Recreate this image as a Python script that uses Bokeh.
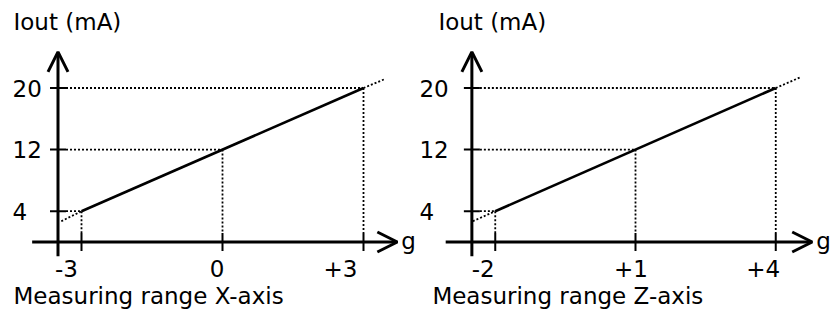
from bokeh.plotting import figure
from bokeh.models import Range1d, Arrow, OpenHead
from bokeh.core.properties import value
from bokeh.embed import file_html
from bokeh.resources import INLINE

# ---------------- data ----------------
y_title = "Iout (mA)"
x_unit = "g"
mA_ticks = [4, 12, 20]
y_tick_labels = ["4", "12", "20"]
y_axis_span = [-1.85, 24.7]          # mA extent of the vertical axis arrow

# X-axis measuring range
x_title = "Measuring range X-axis"
x_ticks_g = [-3, 0, 3]
x_tick_labels = ["-3", "0", "+3"]
x_origin_g = -3.5
x_axis_span = [-4.05, 3.72]
x_line_g = [-3, 3]
x_line_mA = [4, 20]
x_ext_lo_g = [-3.43, -3]
x_ext_lo_mA = [2.7, 4]
x_ext_hi_g = [3, 3.47]
x_ext_hi_mA = [20, 21.2]

# Z-axis measuring range
z_title = "Measuring range Z-axis"
z_ticks_g = [-2, 1, 4]
z_tick_labels = ["-2", "+1", "+4"]
z_origin_g = -2.5
z_axis_span = [-3.06, 4.78]
z_line_g = [-2, 4]
z_line_mA = [4, 20]
z_ext_lo_g = [-2.48, -2]
z_ext_lo_mA = [2.7, 4]
z_ext_hi_g = [4, 4.53]
z_ext_hi_mA = [20, 21.4]

# ---------------- style / layout ----------------
FONT = value("DejaVu Sans")
FS = value("23px")
W, H = 837, 311
PX_PER_MA = 7.7
Y0 = 241.5            # pixel row of 0 mA
X_PX_PER_G, X_G0 = 47.0, 222.0       # left panel scale
Z_PX_PER_G, Z_G0 = 46.75, 588.25     # right panel scale
TSHIFT = -8           # text vertical correction (px, negative = up)

p = figure(width=W, height=H, output_backend="svg", toolbar_location=None,
           x_range=Range1d(-X_G0 / X_PX_PER_G, (W - X_G0) / X_PX_PER_G),
           y_range=Range1d(-(H - Y0) / PX_PER_MA, Y0 / PX_PER_MA),
           x_axis_type=None, y_axis_type=None, min_border=0)
p.extra_x_ranges = {"z": Range1d(-Z_G0 / Z_PX_PER_G, (W - Z_G0) / Z_PX_PER_G)}
p.grid.visible = False
p.outline_line_color = None
p.background_fill_color = "white"
p.border_fill_color = "white"

DOT = dict(line_color="black", line_width=1.8, line_dash="2 2")


def panel(rn, px_per_g, origin, axis_span, ticks_g, tick_labels, label_dx,
          line_g, line_mA, ext_lo_g, ext_lo_mA, ext_hi_g, ext_hi_mA, title,
          ylab_dx, iout_dx, meas_dx):
    dx = lambda px: px / px_per_g
    dy = lambda px: px / PX_PER_MA
    n = len(ticks_g)
    # dotted guides
    p.segment(x0=[origin + dx(8)] * n, y0=mA_ticks, x1=ticks_g, y1=mA_ticks, x_range_name=rn, **DOT)
    p.segment(x0=ticks_g, y0=mA_ticks, x1=ticks_g, y1=[dy(9)] * n, x_range_name=rn, **DOT)
    p.line(ext_lo_g, ext_lo_mA, x_range_name=rn, **DOT)
    p.line(ext_hi_g, ext_hi_mA, x_range_name=rn, **DOT)
    # characteristic
    p.line(line_g, line_mA, line_color="black", line_width=2.6, x_range_name=rn)

    # axes with arrows
    p.add_layout(Arrow(end=OpenHead(size=20, line_width=3, line_color="black"),
                       x_start=origin, y_start=y_axis_span[0], x_end=origin, y_end=y_axis_span[1],
                       line_width=3, line_color="black", x_range_name=rn))
    p.add_layout(Arrow(end=OpenHead(size=20, line_width=3, line_color="black"),
                       x_start=axis_span[0], y_start=0, x_end=axis_span[1], y_end=0,
                       line_width=3, line_color="black", x_range_name=rn))
    # ticks
    p.segment(x0=ticks_g, y0=[-dy(9)] * n, x1=ticks_g, y1=[dy(9)] * n,
              line_color="black", line_width=2, x_range_name=rn)
    p.segment(x0=[origin - dx(8)] * n, y0=mA_ticks, x1=[origin + dx(8)] * n, y1=mA_ticks,
              line_color="black", line_width=2, x_range_name=rn)

    # texts
    common = dict(text_font=FONT, text_font_size=FS, text_color="black",
                  text_baseline="alphabetic", x_range_name=rn)
    p.text(x=ticks_g, y=[-dy(34.5)] * n, text=tick_labels, x_offset=label_dx,
           y_offset=TSHIFT, text_align="center", **common)
    p.text(x=[origin + dx(ylab_dx)] * n, y=mA_ticks, text=y_tick_labels, y_offset=8 + TSHIFT,
           text_align="left", **common)
    p.text(x=[origin + dx(iout_dx)], y=[dy(212.5)], text=[y_title], y_offset=TSHIFT,
           text_align="left", **common)
    p.text(x=[origin + dx(meas_dx)], y=[-dy(61.5)], text=[title], y_offset=TSHIFT,
           text_align="left", **common)
    p.text(x=[axis_span[1] + dx(4)], y=[-dy(6.5)], text=[x_unit], y_offset=TSHIFT,
           text_align="left", **common)


panel("default", X_PX_PER_G, x_origin_g, x_axis_span, x_ticks_g, x_tick_labels,
      [-15, -5.5, -23], x_line_g, x_line_mA, x_ext_lo_g, x_ext_lo_mA,
      x_ext_hi_g, x_ext_hi_mA, x_title, -45.5, -44.5, -44.5)
panel("z", Z_PX_PER_G, z_origin_g, z_axis_span, z_ticks_g, z_tick_labels,
      [-12, -4.5, -12.5], z_line_g, z_line_mA, z_ext_lo_g, z_ext_lo_mA,
      z_ext_hi_g, z_ext_hi_mA, z_title, -52.5, -33.5, -39.5)

open("out.html", "w").write(file_html(p, INLINE))
